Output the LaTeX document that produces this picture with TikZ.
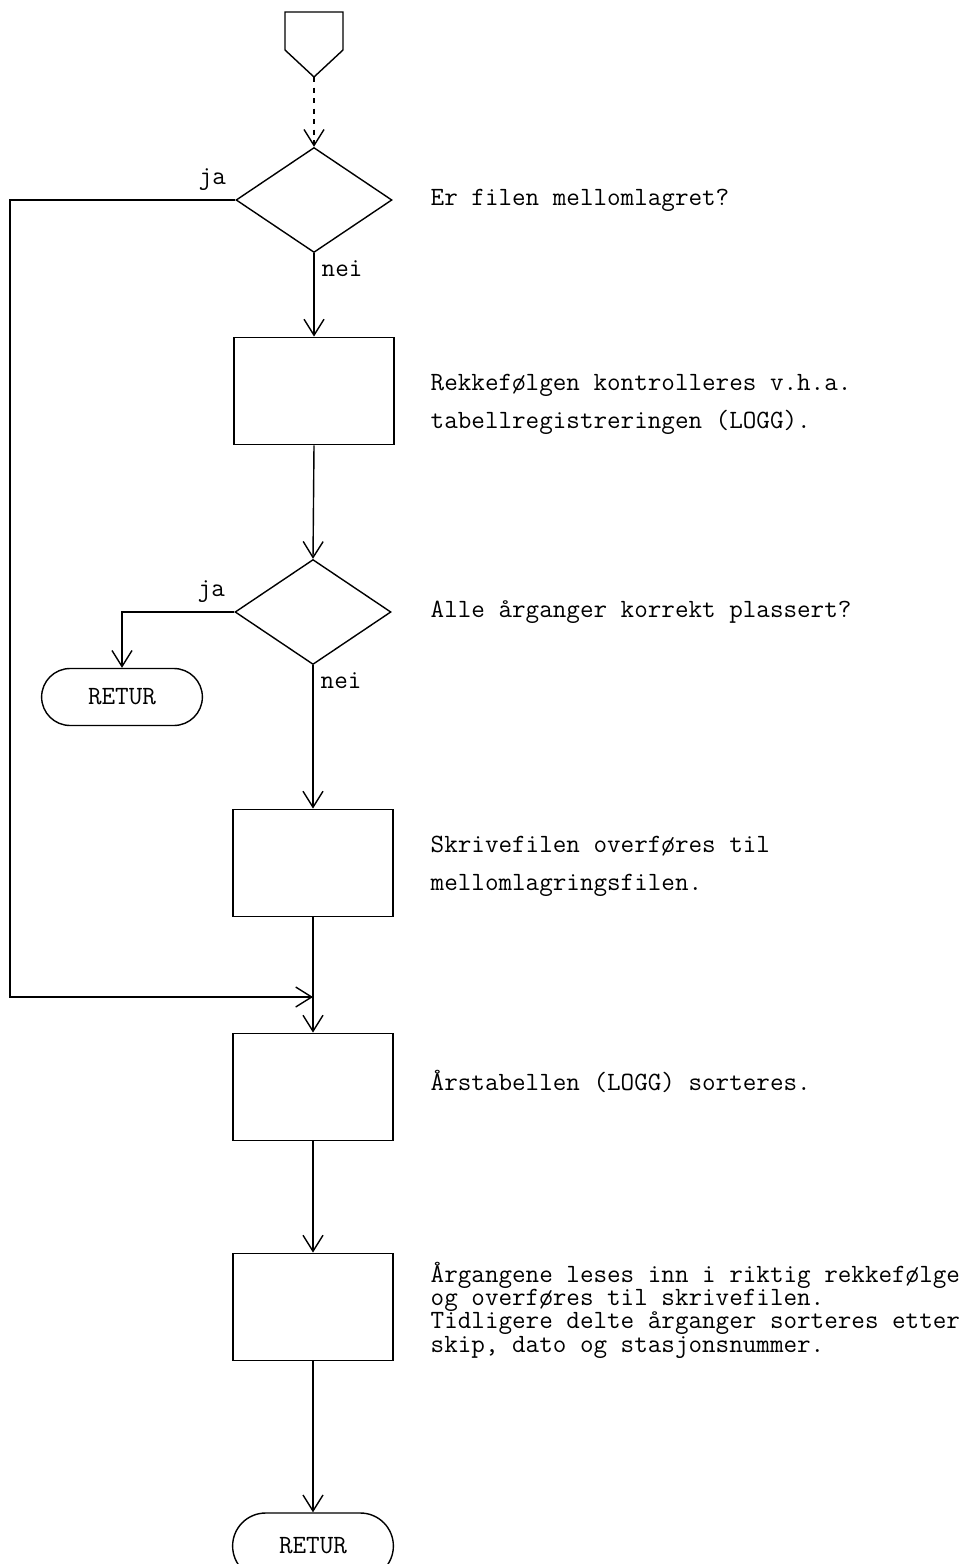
\documentclass[tikz,border=0pt]{standalone}
\usepackage{fontspec}
\usetikzlibrary{shapes.geometric,shapes.misc,arrows.meta}
\tikzset{
    box/.style={draw, rectangle, minimum width=3.2cm, minimum height=2.15cm},
    choice/.style={draw, diamond, inner sep=0pt, minimum width=3.12cm, minimum height=2.1cm},
    terminal/.style={draw, rounded rectangle, minimum width=3.45cm, minimum height=1.14cm},
    flow/.style={-{Straight Barb[length=3.2mm,width=4mm]}},
    note/.style={anchor=west, align=left, inner sep=0pt},
}

\begin{document}
\begin{tikzpicture}[x=0.02cm, y=-0.02cm, line width=0.8pt, font=\ttfamily\fontsize{15}{18}\selectfont]
    \useasboundingbox (0,0) rectangle (973,1564);
    % inngang
    \draw (285,12) -- (343,12) -- (343,50) -- (314,77) -- (285,50) -- cycle;
    \coordinate (start) at (314,77);
    \coordinate (join) at (313,997);

    \node[choice] (d1) at (314,200) {};
    \node[box] (b1) at (314,391) {};
    \node[choice] (d2) at (313,612) {};
    \node[terminal] (r1) at (122,697) {RETUR};
    \node[box] (b2) at (313,863) {};
    \node[box] (b3) at (313,1087) {};
    \node[box] (b4) at (313,1307) {};
    \node[terminal, minimum height=1.32cm] (r2) at (313,1546) {RETUR};

    \node[note] (t1) at (430,200) {Er filen mellomlagret?};
    \node[note, font=\ttfamily\fontsize{15}{21.6}\selectfont] (t2) at (430,404) {Rekkefølgen kontrolleres v.h.a.\\tabellregistreringen (LOGG).};
    \node[note] (t3) at (430,612) {Alle årganger korrekt plassert?};
    \node[note, font=\ttfamily\fontsize{15}{21.6}\selectfont] (t4) at (430,866) {Skrivefilen overføres til\\mellomlagringsfilen.};
    \node[note] (t5) at (430,1081) {Årstabellen (LOGG) sorteres.};
    \node[note, font=\ttfamily\fontsize{15}{13.3}\selectfont] (t6) at (430,1310) {Årgangene leses inn i riktig rekkefølge\\og overføres til skrivefilen.\\Tidligere delte årganger sorteres etter\\skip, dato og stasjonsnummer.};

    \draw[flow, dashed] (start) -- (d1.north);
    \draw[flow] (d1.west) node[above left, inner sep=5pt] {ja} -- (10,200) -- (10,997) -- (join);
    \draw[flow] (d1.south) node[below right, inner sep=4pt] {nei} -- (b1.north);
    \draw[flow] (b1.south) -- (d2.north);
    \draw[flow] (d2.west) node[above left, inner sep=5pt] {ja} -| (r1.north);
    \draw[flow] (d2.south) node[below right, inner sep=4pt] {nei} -- (b2.north);
    \draw[flow] (b2.south) -- (b3.north);
    \draw[flow] (b3.south) -- (b4.north);
    \draw[flow] (b4.south) -- (r2.north);
\end{tikzpicture}
\end{document}
